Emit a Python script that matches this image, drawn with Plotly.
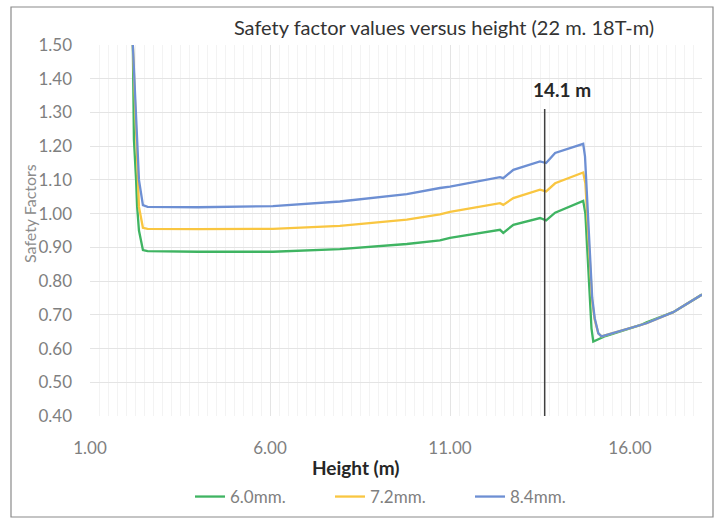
import plotly.graph_objects as go

# ---- data ----
series_names = ["6.0mm.", "7.2mm.", "8.4mm."]

green_x = [2.19, 2.22, 2.28, 2.31, 2.36, 2.47, 2.60, 4.0, 6.08, 7.94, 9.80, 10.72, 11.0,
           12.39, 12.48, 12.76, 13.50, 13.67, 13.92, 14.70, 14.76, 14.93, 14.98, 15.10,
           15.32, 16.30, 16.46, 17.2, 18.0]
green_y = [1.50, 1.22, 1.10, 1.02, 0.95, 0.892, 0.889, 0.887, 0.887, 0.895, 0.910, 0.921, 0.928,
           0.952, 0.943, 0.967, 0.987, 0.980, 1.003, 1.038, 1.00, 0.66, 0.621, 0.626,
           0.637, 0.670, 0.678, 0.708, 0.760]

yellow_x = [2.19, 2.28, 2.33, 2.36, 2.47, 2.60, 4.0, 6.08, 7.94, 9.80, 10.72, 11.0,
            12.39, 12.48, 12.76, 13.50, 13.67, 13.92, 14.70, 14.76, 14.95, 15.02, 15.12,
            15.21, 16.46, 17.2, 18.0]
yellow_y = [1.50, 1.22, 1.10, 1.02, 0.958, 0.955, 0.954, 0.955, 0.964, 0.982, 0.998, 1.005,
            1.031, 1.026, 1.046, 1.071, 1.066, 1.090, 1.122, 1.09, 0.74, 0.685, 0.645,
            0.636, 0.675, 0.708, 0.760]

blue_x = [2.19, 2.31, 2.36, 2.47, 2.60, 4.0, 6.08, 7.94, 9.80, 10.72, 11.0,
          12.39, 12.48, 12.76, 13.50, 13.67, 13.92, 14.70, 14.75, 14.95, 15.02, 15.12,
          15.21, 16.46, 17.2, 18.0]
blue_y = [1.50, 1.22, 1.10, 1.025, 1.020, 1.019, 1.022, 1.036, 1.058, 1.076, 1.080,
          1.108, 1.105, 1.130, 1.155, 1.150, 1.180, 1.207, 1.17, 0.75, 0.69, 0.645,
          0.636, 0.675, 0.708, 0.760]

marker_x = 13.63          # position of the vertical reference line
marker_top = 1.31
marker_label = "14.1 m"
marker_label_x = 14.1

x_ticks = [1, 6, 11, 16]
y_ticks = [0.40, 0.50, 0.60, 0.70, 0.80, 0.90, 1.00, 1.10, 1.20, 1.30, 1.40, 1.50]

colors = ["#3fb462", "#f9c641", "#6d8fd3"]

W, H = 715, 519
ML, MR, MT, MB = 90, 13, 45, 103
PW, PH = W - ML - MR, H - MT - MB

FONT = "Lato"

fig = go.Figure()
for name, xs, ys, c in zip(series_names, [green_x, yellow_x, blue_x],
                           [green_y, yellow_y, blue_y], colors):
    fig.add_trace(go.Scatter(x=xs, y=ys, mode="lines", name=name,
                             line=dict(color=c, width=2.3)))

fig.add_shape(type="line", x0=marker_x, x1=marker_x, y0=0.40, y1=marker_top,
              xref="x", yref="y", line=dict(color="#404040", width=1.5))
fig.add_annotation(x=marker_label_x, y=1.367, xref="x", yref="y", text=marker_label,
                   showarrow=False, font=dict(family=FONT, size=19, color="#262626", weight="bold"))

# axis titles as annotations
fig.add_annotation(x=(356 - ML) / PW, y=-(467 - (MT + PH)) / PH, xref="paper", yref="paper",
                   xanchor="center", yanchor="middle",
                   text="Height (m)", showarrow=False,
                   font=dict(family=FONT, size=19, color="#262626", weight="bold"))
fig.add_annotation(x=(29 - ML) / PW, y=((MT + PH) - 213) / PH, xref="paper", yref="paper",
                   xanchor="center", yanchor="middle",
                   text="Safety Factors", textangle=-90, showarrow=False,
                   font=dict(family=FONT, size=16, color="#8c8c8c"))

# outer border
fig.add_shape(type="rect", xref="paper", yref="paper",
              x0=-(ML - 11) / PW, x1=1 + (MR - 2) / PW,
              y0=-(517 - (MT + PH)) / PH, y1=1 + (MT - 7) / PH,
              line=dict(color="#8a8a8a", width=1.2), layer="below")

fig.update_layout(
    width=W, height=H,
    margin=dict(l=ML, r=MR, t=MT, b=MB, autoexpand=False),
    paper_bgcolor="white", plot_bgcolor="white",
    font=dict(family=FONT, size=15, color="#7f7f7f"),
    title=dict(text="Safety factor values versus height (22 m. 18T-m)",
               x=(444 - ML) / PW, xref="paper", xanchor="center",
               y=1 - 28 / H, yanchor="middle",
               font=dict(family=FONT, size=20, color="#333333")),
    showlegend=True,
    legend=dict(orientation="h", x=(190 - ML) / PW, xanchor="left",
                y=-(497 - (MT + PH)) / PH, yanchor="middle",
                entrywidth=95, entrywidthmode="pixels", itemwidth=30,
                font=dict(family=FONT, size=17, color="#7f7f7f"),
                bgcolor="rgba(0,0,0,0)"),
    xaxis=dict(range=[1, 18], tickvals=x_ticks, tickformat=".2f",
               showgrid=True, gridcolor="#e4e4e4", gridwidth=1,
               minor=dict(dtick=0.25, tick0=1, showgrid=True, gridcolor="#f3f3f3", gridwidth=1),
               zeroline=False, showline=False, ticks="", ticklabelstandoff=20,
               tickfont=dict(family=FONT, size=17, color="#7f7f7f")),
    yaxis=dict(range=[0.40, 1.50], tickvals=y_ticks, tickformat=".2f",
               showgrid=True, gridcolor="#e4e4e4", gridwidth=1,
               zeroline=False, showline=False, ticks="", ticklabelstandoff=17,
               tickfont=dict(family=FONT, size=17, color="#7f7f7f")),
)

fig.write_html("out.html", config={"displayModeBar": False},
               post_script="document.body.style.margin='0';")
